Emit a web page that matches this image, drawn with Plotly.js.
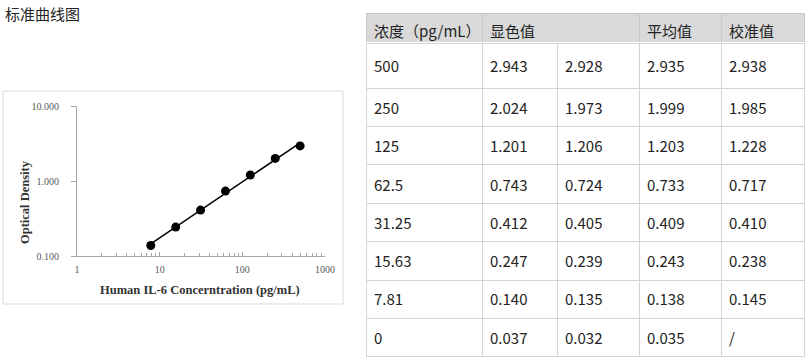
<!DOCTYPE html>
<html>
<head>
<meta charset="utf-8">
<script src="https://cdn.plot.ly/plotly-3.0.1.min.js"></script>
<style>html,body{margin:0;padding:0;background:#fff;}#chart{width:810px;height:363px;}</style>
</head>
<body>
<div id="chart"></div>
<script>
// ---- data ----
const concentration = [500, 250, 125, 62.5, 31.25, 15.63, 7.81, 0];
const concLabels = ["500", "250", "125", "62.5", "31.25", "15.63", "7.81", "0"];
const od1 = ["2.943", "2.024", "1.201", "0.743", "0.412", "0.247", "0.140", "0.037"];
const od2 = ["2.928", "1.973", "1.206", "0.724", "0.405", "0.239", "0.135", "0.032"];
const odMean = ["2.935", "1.999", "1.203", "0.733", "0.409", "0.243", "0.138", "0.035"];
const odCal = ["2.938", "1.985", "1.228", "0.717", "0.410", "0.238", "0.145", "/"];
const headerLabels = ["浓度（pg/mL）", "显色值", "平均值", "校准值"];
const xTickVals = [1, 10, 100, 1000];
const xTickText = ["1", "10", "100", "1000"];
const yTickVals = [0.1, 1, 10];
const yTickText = ["0.100", "1.000", "10.000"];
const chartTitle = "标准曲线图";
const xTitle = "Human IL-6 Concerntration (pg/mL)";
const yTitle = "Optical Density";

// ---- plotted points (standards, excluding blank) ----
const ptsX = [], ptsY = [];
concentration.forEach((c, i) => { if (c > 0) { ptsX.push(c); ptsY.push(parseFloat(odMean[i])); } });
// power-law fit in log-log space
const lx = ptsX.map(Math.log10), ly = ptsY.map(Math.log10);
const n = lx.length;
const mx = lx.reduce((a, b) => a + b, 0) / n, my = ly.reduce((a, b) => a + b, 0) / n;
let sxy = 0, sxx = 0;
for (let i = 0; i < n; i++) { sxy += (lx[i] - mx) * (ly[i] - my); sxx += (lx[i] - mx) ** 2; }
const slope = sxy / sxx, icpt = my - slope * mx;
const fitX = [Math.min(...ptsX), Math.max(...ptsX)];
const fitY = fitX.map(x => Math.pow(10, icpt + slope * Math.log10(x)));

const minorVals = [];
[1, 10, 100].forEach(d => { for (let k = 2; k <= 9; k++) minorVals.push(d * k); });

const W = 810, H = 363;
const px = v => v / W, py = v => 1 - v / H;

const cjk = "Noto Sans CJK SC, Noto Sans, sans-serif";
const serif = "Liberation Serif, Times New Roman, serif";
const gridCol = "#d4d4d4";
const clear = "rgba(0,0,0,0)";
const cellFont = { family: cjk, size: 15, color: "#222" };
const bodyCols = [concLabels, od1, od2, odMean, odCal];
const blank = arr => arr.map(() => "");
const colW5 = [116, 75, 82, 82, 83];
const colW4 = [116, 157, 82, 83];
const tx = [px(366), px(804)];

const traces = [
  {
    type: "scatter", mode: "lines", x: fitX, y: fitY,
    line: { color: "#000", width: 1.5 }, hoverinfo: "skip", showlegend: false
  },
  {
    type: "scatter", mode: "markers", x: ptsX, y: ptsY,
    marker: { color: "#000", size: 9 }, showlegend: false
  },
  // body grid (first data row is the taller top row)
  {
    type: "table", domain: { x: tx, y: [py(357), py(43)] }, columnwidth: colW5,
    header: { values: bodyCols.map(c => ""), height: 45, fill: { color: "#fff" }, line: { color: gridCol, width: 1 }, font: cellFont },
    cells: { values: bodyCols.map(c => blank(c.slice(1))), height: 38.4, fill: { color: "#fff" }, line: { color: gridCol, width: 1 }, font: cellFont }
  },
  // header grid with merged 显色值 cell
  {
    type: "table", domain: { x: tx, y: [py(43), py(13)] }, columnwidth: colW4,
    header: { values: headerLabels.map(() => ""), height: 30, fill: { color: "#d9d9d9" }, line: { color: "#c8c8c8", width: 1 }, font: cellFont },
    cells: { values: [[], [], [], []] }
  },
  // header text
  {
    type: "table", domain: { x: tx, y: [py(43), py(18)] }, columnwidth: colW4,
    header: { values: headerLabels, height: 25, align: "left", fill: { color: clear }, line: { color: clear, width: 0 }, font: cellFont },
    cells: { values: [[], [], [], []] }
  },
  // body text
  {
    type: "table", domain: { x: tx, y: [0, py(53)] }, columnwidth: colW5,
    header: { values: bodyCols.map(c => c[0]), height: 41.7, align: "left", fill: { color: clear }, line: { color: clear, width: 0 }, font: cellFont },
    cells: { values: bodyCols.map(c => c.slice(1)), height: 38.3, align: "left", fill: { color: clear }, line: { color: clear, width: 0 }, font: cellFont }
  }
];

const axisCol = "#a6a6a6";
const layout = {
  width: W, height: H,
  margin: { l: 0, r: 0, t: 0, b: 0, pad: 0 },
  paper_bgcolor: "#fff", plot_bgcolor: "#fff",
  showlegend: false,
  xaxis: {
    type: "log", domain: [px(77), px(325)], range: [0, 3],
    showline: true, linecolor: axisCol, linewidth: 1,
    showgrid: false, zeroline: false,
    tickmode: "array", tickvals: xTickVals, ticktext: xTickText,
    ticks: "inside", ticklen: 4, tickcolor: axisCol, tickwidth: 1,
    ticklabelstandoff: 4,
    tickfont: { family: serif, size: 10, color: "#595959" },
    minor: { tickmode: "array", tickvals: minorVals, ticks: "inside", ticklen: 3, tickcolor: axisCol, showgrid: false }
  },
  yaxis: {
    type: "log", domain: [py(256), py(106)], range: [-1, 1],
    showline: true, linecolor: axisCol, linewidth: 1,
    showgrid: false, zeroline: false,
    tickmode: "array", tickvals: yTickVals, ticktext: yTickText,
    ticks: "outside", ticklen: 5, tickcolor: axisCol, tickwidth: 1,
    ticklabelstandoff: 10,
    tickfont: { family: serif, size: 10, color: "#595959" }
  },
  shapes: [
    { type: "rect", xref: "paper", yref: "paper", x0: px(3), x1: px(343), y0: py(304), y1: py(91),
      line: { color: "#d9d9d9", width: 1 }, fillcolor: "rgba(0,0,0,0)", layer: "below" }
  ],
  annotations: [
    { text: chartTitle, xref: "paper", yref: "paper", x: px(3), y: py(13), xanchor: "left", yanchor: "middle",
      showarrow: false, font: { family: cjk, size: 15, color: "#222" } },
    { text: "<b>" + xTitle + "</b>", xref: "paper", yref: "paper", x: px(200), y: py(290), xanchor: "center", yanchor: "middle",
      showarrow: false, font: { family: serif, size: 12.5, color: "#333" } },
    { text: "<b>" + yTitle + "</b>", xref: "paper", yref: "paper", x: px(25), y: py(202), xanchor: "center", yanchor: "middle",
      textangle: -90, showarrow: false, font: { family: serif, size: 12.5, color: "#333" } }
  ]
};

Plotly.newPlot("chart", traces, layout, { staticPlot: true, displayModeBar: false });
</script>
</body>
</html>
